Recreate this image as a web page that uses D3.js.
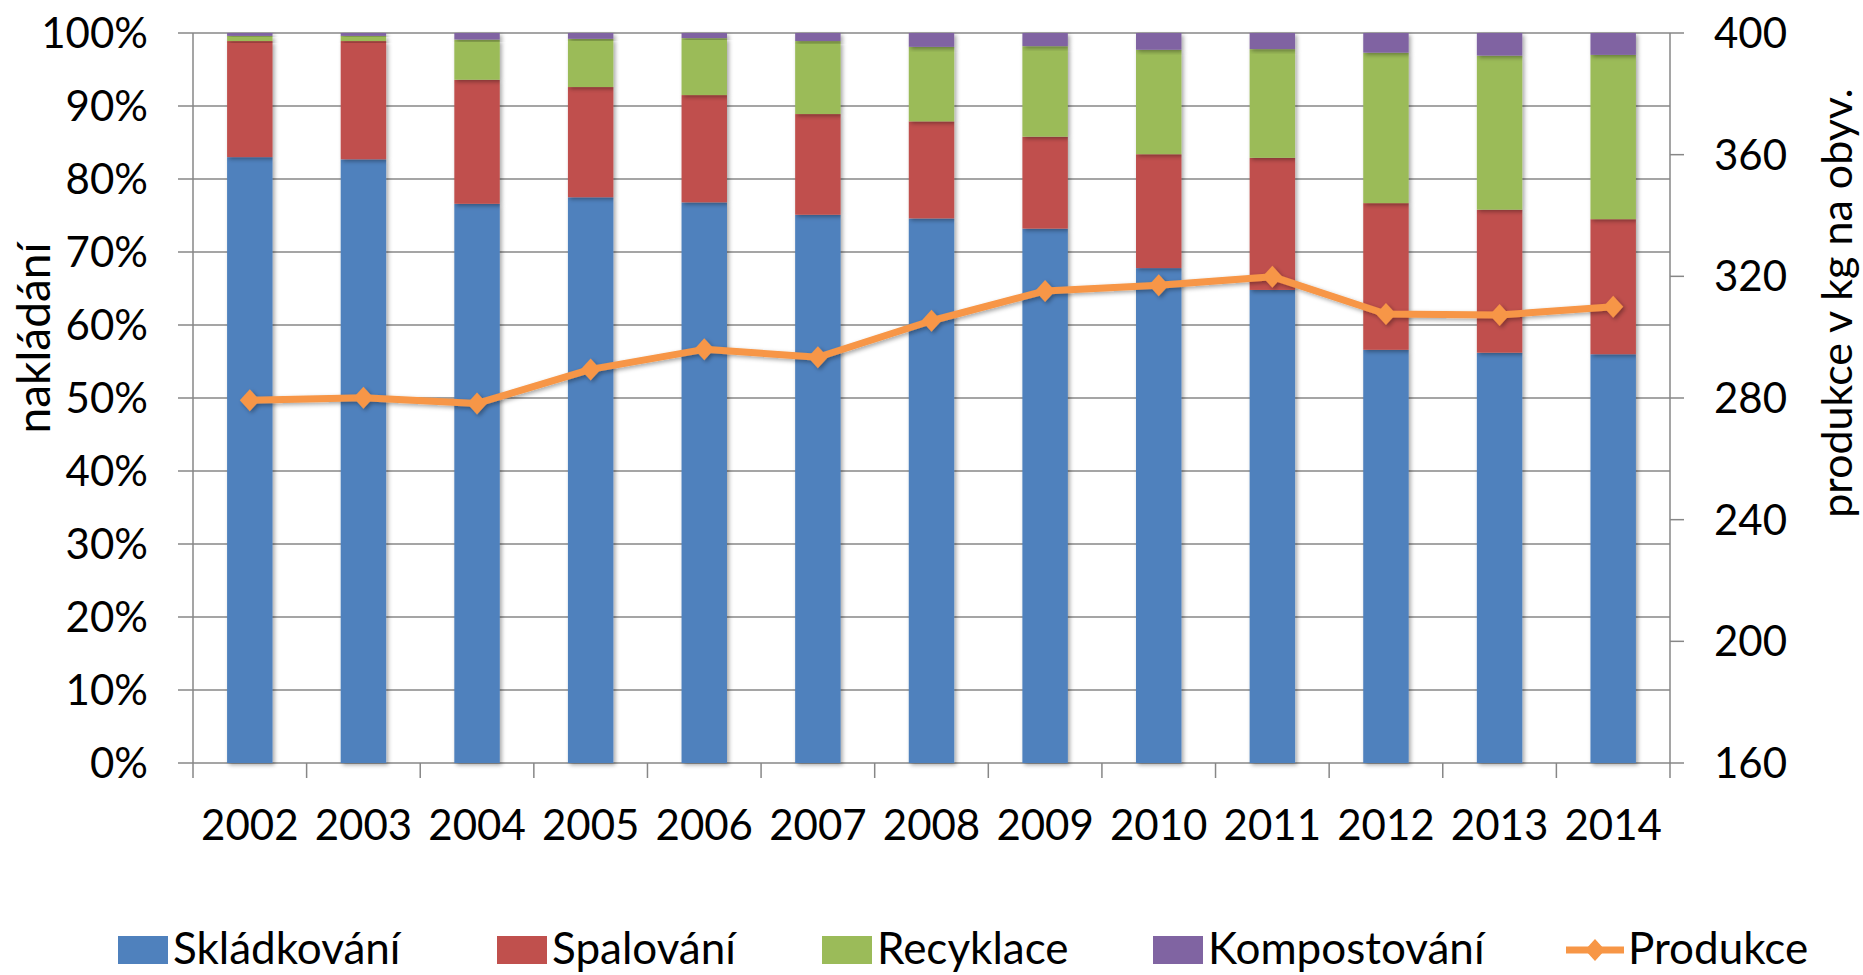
<!DOCTYPE html>
<html>
<head>
<meta charset="utf-8">
<script src="https://cdn.jsdelivr.net/npm/d3@7"></script>
<style>
    body { margin: 0; background: #fff; }
    text { font-family: Lato, "Open Sans", sans-serif; fill: #000; }
</style>
</head>
<body>
<svg id="chart" width="1863" height="975"></svg>
<script>
var years = ["2002", "2003", "2004", "2005", "2006", "2007", "2008", "2009", "2010", "2011", "2012", "2013", "2014"];
var skladkovani = [83.0, 82.7, 76.6, 77.5, 76.8, 75.1, 74.6, 73.2, 67.8, 64.8, 56.6, 56.2, 56.0];
var spalovani = [15.9, 16.2, 17.0, 15.1, 14.7, 13.8, 13.3, 12.6, 15.6, 18.1, 20.1, 19.6, 18.5];
var recyklace = [0.7, 0.7, 5.5, 6.6, 7.8, 10.0, 10.2, 12.4, 14.3, 14.9, 20.6, 21.1, 22.5];
var kompostovani = [0.4, 0.4, 0.9, 0.8, 0.7, 1.1, 1.9, 1.8, 2.3, 2.2, 2.7, 3.1, 3.0];
var produkce = [279.3, 280.1, 278.2, 289.4, 296.0, 293.4, 305.4, 315.2, 317.1, 319.9, 307.6, 307.3, 310.0];

var leftTicks = [0, 10, 20, 30, 40, 50, 60, 70, 80, 90, 100];
var rightTicks = [160, 200, 240, 280, 320, 360, 400];

var keys = ["Skládkování", "Spalování", "Recyklace", "Kompostování"];
var colors = ["#4F81BD", "#C0504D", "#9BBB59", "#8064A2"];
var lineColor = "#F79646";
var gridColor = "#878787";

var rows = years.map(function (y, i) {
    return {
        year: y,
        "Skládkování": skladkovani[i],
        "Spalování": spalovani[i],
        "Recyklace": recyklace[i],
        "Kompostování": kompostovani[i]
    };
});

var svg = d3.select('#chart');
var plotLeft = 193, plotRight = 1670, plotTop = 33, plotBottom = 763;

var defs = svg.append('defs');
var f = defs.append('filter').attr('id', 'shadow')
    .attr('x', '-30%').attr('y', '-30%').attr('width', '160%').attr('height', '160%');
f.append('feDropShadow').attr('dx', 2).attr('dy', 2).attr('stdDeviation', 2)
    .attr('flood-color', '#000').attr('flood-opacity', 0.35);

var x = d3.scaleBand().domain(years).range([plotLeft, plotRight]).paddingInner(0.6).paddingOuter(0.3);
var y = d3.scaleLinear().domain([0, 100]).range([plotBottom, plotTop]);
var y2 = d3.scaleLinear().domain([160, 400]).range([plotBottom, plotTop]);

// gridlines + left ticks
svg.append('g').selectAll('line')
    .data(leftTicks)
    .enter().append('line')
    .attr('x1', plotLeft - 15).attr('x2', plotRight)
    .attr('y1', function (d) { return y(d); })
    .attr('y2', function (d) { return y(d); })
    .attr('stroke', gridColor).attr('stroke-width', 1.5);

// axis lines
svg.append('line').attr('x1', plotLeft).attr('x2', plotLeft).attr('y1', plotTop).attr('y2', plotBottom)
    .attr('stroke', gridColor).attr('stroke-width', 1.5);
svg.append('line').attr('x1', plotRight).attr('x2', plotRight).attr('y1', plotTop).attr('y2', plotBottom)
    .attr('stroke', gridColor).attr('stroke-width', 1.5);

// right ticks
svg.append('g').selectAll('line')
    .data(rightTicks)
    .enter().append('line')
    .attr('x1', plotRight).attr('x2', plotRight + 14)
    .attr('y1', function (d) { return y2(d); })
    .attr('y2', function (d) { return y2(d); })
    .attr('stroke', gridColor).attr('stroke-width', 1.5);

// category ticks
var step = x.step();
var catTicks = years.map(function (d) { return x(d) - step * 0.3; });
catTicks.push(plotRight);
svg.append('g').selectAll('line')
    .data(catTicks)
    .enter().append('line')
    .attr('x1', function (d) { return d; })
    .attr('x2', function (d) { return d; })
    .attr('y1', plotBottom).attr('y2', plotBottom + 15)
    .attr('stroke', gridColor).attr('stroke-width', 1.5);

// bars
var stack = d3.stack().keys(keys);
var series = stack(rows);

var layer = svg.append('g').selectAll('g')
    .data(series)
    .enter().append('g')
    .attr('fill', function (d, i) { return colors[i]; });

layer.selectAll('rect')
    .data(function (d) { return d; })
    .enter().append('rect')
    .attr('x', function (d) { return x(d.data.year); })
    .attr('width', x.bandwidth())
    .attr('y', function (d) { return y(d[1]); })
    .attr('height', function (d) { return y(d[0]) - y(d[1]); })
    .attr('filter', 'url(#shadow)');

// line
var line = d3.line()
    .x(function (d, i) { return x(years[i]) + x.bandwidth() / 2; })
    .y(function (d) { return y2(d); });

var lineG = svg.append('g').attr('filter', 'url(#shadow)');
lineG.append('path')
    .datum(produkce)
    .attr('d', line)
    .attr('fill', 'none')
    .attr('stroke', lineColor)
    .attr('stroke-width', 7)
    .attr('stroke-linejoin', 'round');

var diamond = "M0,-11L10,0L0,11L-10,0Z";
lineG.selectAll('.marker')
    .data(produkce)
    .enter().append('path')
    .attr('class', 'marker')
    .attr('d', diamond)
    .attr('fill', lineColor)
    .attr('transform', function (d, i) {
        return "translate(" + (x(years[i]) + x.bandwidth() / 2) + "," + y2(d) + ")";
    });

// tick labels
svg.append('g').selectAll('text')
    .data(leftTicks)
    .enter().append('text')
    .attr('x', 148)
    .attr('y', function (d) { return y(d); })
    .attr('dy', '0.36em')
    .style('text-anchor', 'end')
    .style('font-size', '42px')
    .text(function (d) { return d + '%'; });

svg.append('g').selectAll('text')
    .data(rightTicks)
    .enter().append('text')
    .attr('x', 1714)
    .attr('y', function (d) { return y2(d); })
    .attr('dy', '0.36em')
    .style('font-size', '42px')
    .text(function (d) { return d; });

svg.append('g').selectAll('text')
    .data(years)
    .enter().append('text')
    .attr('x', function (d) { return x(d) + x.bandwidth() / 2; })
    .attr('y', 840)
    .style('text-anchor', 'middle')
    .style('font-size', '42px')
    .text(function (d) { return d; });

// axis titles
svg.append('text')
    .attr('transform', 'translate(50,338) rotate(-90)')
    .style('text-anchor', 'middle')
    .style('font-size', '46px')
    .text('nakládání');

svg.append('text')
    .attr('transform', 'translate(1852,303) rotate(-90)')
    .style('text-anchor', 'middle')
    .style('font-size', '43px')
    .text('produkce v kg na obyv.');

// legend
var legendX = [118, 497, 822, 1153];
var legendY = 964;
var legend = svg.append('g');
keys.forEach(function (k, i) {
    legend.append('rect')
        .attr('x', legendX[i]).attr('y', legendY - 28)
        .attr('width', 50).attr('height', 28)
        .attr('fill', colors[i]);
    legend.append('text')
        .attr('x', legendX[i] + 55).attr('y', legendY)
        .style('font-size', '44px')
        .text(k);
});
legend.append('line')
    .attr('x1', 1566).attr('x2', 1624).attr('y1', legendY - 14).attr('y2', legendY - 14)
    .attr('stroke', lineColor).attr('stroke-width', 7);
legend.append('path')
    .attr('d', diamond)
    .attr('fill', lineColor)
    .attr('transform', 'translate(1595,' + (legendY - 14) + ')');
legend.append('text')
    .attr('x', 1628).attr('y', legendY)
    .style('font-size', '44px')
    .text('Produkce');
</script>
</body>
</html>
